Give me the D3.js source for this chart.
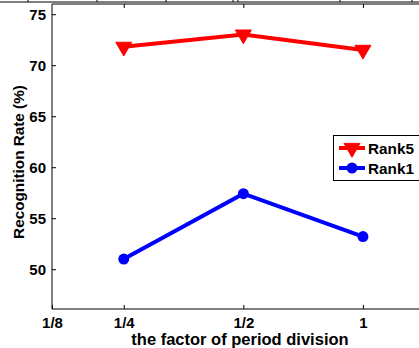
<!DOCTYPE html>
<html>
<head>
<meta charset="utf-8">
<script src="https://cdn.jsdelivr.net/npm/d3@7"></script>
<style>
  body { margin: 0; background: #fff; }
  svg { display: block; font-family: "Liberation Sans", Arial, sans-serif; }
</style>
</head>
<body>
<svg></svg>
<script>
// data
let xPos = [1, 2, 3];                       // positions of 1/4, 1/2, 1
let rank5 = [71.8, 73.0, 71.5];
let rank1 = [51.0, 57.4, 53.2];
let xTickPos = [0.4, 1, 2, 3];
let xTickLabels = ["1/8", "1/4", "1/2", "1"];
let yTicks = [50, 55, 60, 65, 70, 75];

let W = 419, H = 348;
let pLeft = 52, pRight = 423, pTop = 4, pBottom = 309;

let svg = d3.select("svg").attr("width", W).attr("height", H);

let x = d3.scaleLinear().domain([0.4, 3 + (pRight - 363) / 119.5]).range([pLeft, pRight]);
let y = d3.scaleLinear().domain([46.1, 76]).range([pBottom, pTop]);

// strip of the figure above, cut off
svg.append("line").attr("x1", 0).attr("x2", W).attr("y1", 2).attr("y2", 2)
    .attr("stroke", "#000").attr("stroke-width", 1.2);
[28, 97, 166, 233, 238, 340, 412].forEach(function(v) {
    svg.append("line").attr("x1", v).attr("x2", v).attr("y1", 0).attr("y2", 2)
        .attr("stroke", "#000").attr("stroke-width", 1);
});

// axes box
let g = svg.append("g");
g.append("line").attr("x1", pLeft).attr("x2", pRight).attr("y1", pTop).attr("y2", pTop)
    .attr("stroke", "#000").attr("stroke-width", 1);
g.append("line").attr("x1", pLeft).attr("x2", pRight).attr("y1", pBottom).attr("y2", pBottom)
    .attr("stroke", "#000").attr("stroke-width", 1);
g.append("line").attr("x1", pLeft).attr("x2", pLeft).attr("y1", pTop).attr("y2", pBottom)
    .attr("stroke", "#000").attr("stroke-width", 1);

let yAxis = d3.axisLeft(y).tickValues(yTicks).tickSize(-4).tickPadding(6);
let yg = svg.append("g").attr("transform", "translate(" + pLeft + ",0)").call(yAxis);
yg.select(".domain").remove();
yg.selectAll("text").attr("font-size", "15px").attr("font-weight", "bold")
    .attr("font-family", "Liberation Sans, Arial, sans-serif").attr("fill", "#000");

let xAxis = d3.axisBottom(x).tickValues(xTickPos).tickFormat((d, i) => xTickLabels[i])
    .tickSize(-4).tickPadding(8);
let xg = svg.append("g").attr("transform", "translate(0," + pBottom + ")").call(xAxis);
xg.select(".domain").remove();
xg.selectAll("text").attr("font-size", "15px").attr("font-weight", "bold")
    .attr("font-family", "Liberation Sans, Arial, sans-serif").attr("fill", "#000");

// top ticks
svg.append("g").attr("transform", "translate(0," + pTop + ")")
    .call(d3.axisTop(x).tickValues(xTickPos.slice(1)).tickSize(-4).tickFormat(""))
    .select(".domain").remove();

// labels
svg.append("text")
    .attr("transform", "translate(23.5,162) rotate(-90)")
    .attr("text-anchor", "middle")
    .attr("font-size", "15.3px").attr("font-weight", "bold")
    .text("Recognition Rate (%)");

svg.append("text")
    .attr("x", 240).attr("y", 345)
    .attr("text-anchor", "middle")
    .attr("font-size", "16.5px").attr("font-weight", "bold")
    .text("the factor of period division");

// series
let line = d3.line().x((d, i) => x(xPos[i])).y(d => y(d));

svg.append("path").datum(rank5).attr("d", line)
    .attr("fill", "none").attr("stroke", "#ff0000").attr("stroke-width", 4);
let tri = d3.symbol().type(d3.symbolTriangle).size(110);
svg.selectAll(".r5").data(rank5).join("path")
    .attr("d", tri)
    .attr("transform", (d, i) => "translate(" + x(xPos[i]) + "," + y(d) + ") rotate(180)")
    .attr("fill", "#ff0000").attr("stroke", "#ff0000").attr("stroke-width", 1);

svg.append("path").datum(rank1).attr("d", line)
    .attr("fill", "none").attr("stroke", "#0000ff").attr("stroke-width", 4);
svg.selectAll(".r1").data(rank1).join("circle")
    .attr("cx", (d, i) => x(xPos[i])).attr("cy", d => y(d))
    .attr("r", 5.5)
    .attr("fill", "#0000ff");

// legend
let lg = svg.append("g");
lg.append("rect").attr("x", 333.5).attr("y", 135.5).attr("width", 100).attr("height", 45)
    .attr("fill", "#fff").attr("stroke", "#000").attr("stroke-width", 1);
let entries = [
    {name: "Rank5", color: "#ff0000", y: 148},
    {name: "Rank1", color: "#0000ff", y: 168}
];
entries.forEach(function(e, k) {
    lg.append("line").attr("x1", 339).attr("x2", 365).attr("y1", e.y).attr("y2", e.y)
        .attr("stroke", e.color).attr("stroke-width", 4);
    if (k == 0) {
        lg.append("path").attr("d", tri)
            .attr("transform", "translate(352," + e.y + ") rotate(180)")
            .attr("fill", e.color).attr("stroke", e.color);
    } else {
        lg.append("circle").attr("cx", 352).attr("cy", e.y).attr("r", 5.5).attr("fill", e.color);
    }
    lg.append("text").attr("x", 368).attr("y", e.y + 5.5)
        .attr("font-size", "15.3px").attr("font-weight", "bold")
        .text(e.name);
});
</script>
</body>
</html>
